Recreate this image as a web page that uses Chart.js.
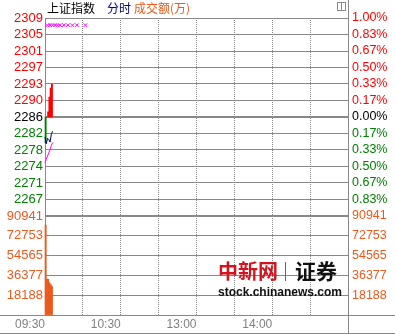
<!DOCTYPE html>
<html>
<head>
<meta charset="utf-8">
<script src="https://cdn.jsdelivr.net/npm/chart.js@4.4.1/dist/chart.umd.min.js"></script>
<style>
html, body { margin: 0; padding: 0; background: #fff; }
canvas { display: block; }
</style>
</head>
<body>
<canvas id="chart" width="395" height="334"></canvas>
<script>
// previous close of 上证指数, the 0.00% line
const prevClose = 2285.8;

// time axis, minutes after 09:30 (morning + afternoon session = 240 min)
const timeTicks = [0, 30, 60, 90, 120, 150, 180, 210, 240];
const timeLabelMinutes = [0, 60, 120, 180];
const timeLabels = ['09:30', '10:30', '13:00', '14:00'];

// left / right tick labels, top to bottom
const priceLabels = ['2309', '2305', '2301', '2297', '2293', '2290', '2286', '2282', '2278', '2274', '2271', '2267'];
const pctLabels = ['1.00%', '0.83%', '0.67%', '0.50%', '0.33%', '0.17%', '0.00%', '0.17%', '0.33%', '0.50%', '0.67%', '0.83%'];
const volTicks = [0, 18188, 36377, 54565, 72753, 90941];

// first minutes of trading
const lineMinutes = [0, 1, 2, 3, 4, 5, 6];
const indexLine = [2281.2, 2279.6, 2280.9, 2280.6, 2280.0, 2281.8, 2282.5];
const leadLine = [2275.3, 2276.0, 2276.8, 2277.5, 2278.3, 2279.2, 2279.9];

const barMinutes = [0, 1, 2, 3, 4, 5];
const buySell = [2279.9, null, 2287.0, 2290.4, 2292.5, 2293.4];
const volume = [82700, 33100, 32800, 29700, 28000, 26200];

const markerMinutes = [2, 4, 6, 7.9, 9.9, 11.9, 15, 18.2, 21.8, 25.3, 32];
const markerValues = [2307, 2307, 2307, 2307, 2307, 2307, 2307, 2307, 2307, 2307, 2307];

const RED = '#ff0000', GREEN = '#008000', ORANGE = '#ea5a1c', GRID = '#888888';
const FONT = 'Liberation Sans, Arial, sans-serif';

function priceTickValues() {
	const out = [];
	for (let k = -6; k <= 6; k++) out.push({ value: prevClose * (1 + k / 600) });
	return out;
}
function stepColor(ctx) {
	const k = ctx.index - 6;
	return k > 0 ? RED : (k === 0 ? '#000000' : GREEN);
}

const decor = {
	id: 'decor',
	beforeDraw(chart) {
		const c = chart.ctx;
		c.save();
		c.fillStyle = '#ffffff';
		c.fillRect(0, 0, chart.width, chart.height);
		c.restore();
	},
	afterDatasetsDraw(chart) {
		const c = chart.ctx;
		c.save();
		// watermark
		c.textBaseline = 'middle';
		c.textAlign = 'left';
		c.fillStyle = '#d2141e';
		c.font = 'bold 20px "Noto Sans CJK SC"';
		c.fillText('中新网', 218, 271);
		c.fillStyle = '#666666';
		c.fillRect(285, 262, 1, 19);
		c.fillStyle = '#111111';
		c.font = 'bold 21px "Noto Sans CJK SC"';
		c.fillText('证券', 295, 271);
		c.font = 'bold 12px ' + FONT;
		c.textBaseline = 'alphabetic';
		c.fillText('stock.chinanews.com', 218, 296);
		c.restore();
	},
	afterDraw(chart) {
		const c = chart.ctx;
		c.save();
		c.strokeStyle = GRID;
		c.lineWidth = 1;
		c.beginPath();
		c.moveTo(0, 315.5); c.lineTo(395, 315.5);
		c.moveTo(0, 333.5); c.lineTo(395, 333.5);
		c.moveTo(348.5, 0); c.lineTo(348.5, 334);
		c.stroke();
		// small layout icon
		c.strokeRect(337.5, 2.5, 8, 8);
		c.beginPath(); c.moveTo(341.5, 2.5); c.lineTo(341.5, 10.5); c.stroke();
		// titles
		c.textBaseline = 'middle';
		c.font = '12px "Noto Sans CJK SC"';
		c.fillStyle = '#000000';
		c.fillText('上证指数', 47, 8.5);
		c.fillStyle = '#000080';
		c.fillText('分时', 107, 8.5);
		c.fillStyle = ORANGE;
		c.fillText('成交额(万)', 134, 8.5);
		c.restore();
	}
};

function initialize() {
	const ctx = document.getElementById('chart');
	new Chart(ctx, {
		data: {
			datasets: [{
				type: 'line',
				data: lineMinutes.map((m, i) => ({ x: m, y: indexLine[i] })),
				borderColor: '#000080',
				borderWidth: 1,
				pointRadius: 0,
				clip: false,
				yAxisID: 'y'
			}, {
				type: 'line',
				data: lineMinutes.map((m, i) => ({ x: m, y: leadLine[i] })),
				borderColor: '#ff00ff',
				borderWidth: 1,
				pointRadius: 0,
				clip: false,
				yAxisID: 'y'
			}, {
				type: 'line',
				data: markerMinutes.map((m, i) => ({ x: m, y: markerValues[i] })),
				showLine: false,
				pointStyle: 'crossRot',
				pointRadius: 2.5,
				pointBorderWidth: 1,
				borderColor: '#ff00ff',
				yAxisID: 'y'
			}, {
				type: 'bar',
				// bars sit in the middle of their minute
				data: barMinutes.map((m, i) => ({ x: m + 0.5, y: buySell[i] == null ? null : [prevClose, buySell[i]] })),
				backgroundColor: c => {
					const v = buySell[c.dataIndex];
					return v != null && v < prevClose ? GREEN : RED;
				},
				barPercentage: 1,
				categoryPercentage: 1,
				grouped: false,
				clip: false,
				yAxisID: 'y'
			}, {
				type: 'bar',
				data: barMinutes.map((m, i) => ({ x: m + 0.5, y: volume[i] })),
				backgroundColor: ORANGE,
				barPercentage: 1,
				categoryPercentage: 1,
				grouped: false,
				clip: false,
				yAxisID: 'yv'
			}]
		},
		options: {
			responsive: false,
			animation: false,
			devicePixelRatio: 1,
			layout: { padding: { top: 18, left: 0, right: 0, bottom: 0 } },
			plugins: { legend: { display: false }, tooltip: { enabled: false } },
			scales: {
				x: {
					type: 'linear',
					min: 0,
					max: 240,
					offset: false,
					afterBuildTicks: s => { s.ticks = timeTicks.map(v => ({ value: v })); },
					afterFit: s => { s.height = 19; },
					ticks: {
						autoSkip: false,
						maxRotation: 0,
						align: 'end',
						padding: 2,
						color: '#808080',
						font: { family: FONT, size: 12 },
						callback: v => {
							const i = timeLabelMinutes.indexOf(v);
							return i < 0 ? '' : timeLabels[i];
						}
					},
					grid: {
						color: GRID,
						offset: false,
						drawTicks: false,
						lineWidth: [0, 1, 1, 1, 1, 1, 1, 1, 0]
					},
					border: { display: true, color: GRID, dash: [1, 1] }
				},
				y: {
					type: 'linear',
					position: 'left',
					stack: 'left',
					stackWeight: 2,
					weight: 1,
					min: prevClose * 0.99,
					max: prevClose * 1.01,
					afterBuildTicks: s => { s.ticks = priceTickValues(); },
					afterFit: s => { s.width = 45; },
					ticks: {
						autoSkip: false,
						padding: 2,
						color: stepColor,
						font: { family: FONT, size: 13 },
						callback: (v, i) => priceLabels[12 - i] || ''
					},
					grid: {
						color: GRID,
						drawTicks: false,
						lineWidth: [2, 1, 1, 1, 1, 1, 2, 1, 1, 1, 1, 1, 1]
					},
					border: { display: true, color: GRID, z: -1 }
				},
				yv: {
					type: 'linear',
					position: 'left',
					stack: 'left',
					stackWeight: 1,
					weight: 0,
					min: 0,
					max: volTicks[volTicks.length - 1],
					afterBuildTicks: s => { s.ticks = volTicks.map(v => ({ value: v })); },
					afterFit: s => { s.width = 45; },
					ticks: {
						autoSkip: false,
						padding: 2,
						color: ORANGE,
						font: { family: FONT, size: 13 },
						callback: v => v === 0 ? '' : String(v)
					},
					grid: {
						color: GRID,
						drawTicks: false,
						lineWidth: [1, 1, 1, 1, 1, 2]
					},
					border: { display: true, color: GRID, z: -1 }
				},
				yp: {
					type: 'linear',
					position: 'right',
					stack: 'right',
					stackWeight: 2,
					min: prevClose * 0.99,
					max: prevClose * 1.01,
					afterBuildTicks: s => { s.ticks = priceTickValues(); },
					afterFit: s => { s.width = 47; },
					ticks: {
						autoSkip: false,
						padding: 4,
						color: stepColor,
						font: { family: FONT, size: 12.5 },
						callback: (v, i) => pctLabels[12 - i] || ''
					},
					grid: { drawOnChartArea: false, drawTicks: false },
					border: { display: true, color: GRID }
				},
				yvr: {
					type: 'linear',
					position: 'right',
					stack: 'right',
					stackWeight: 1,
					min: 0,
					max: volTicks[volTicks.length - 1],
					afterBuildTicks: s => { s.ticks = volTicks.map(v => ({ value: v })); },
					afterFit: s => { s.width = 47; },
					ticks: {
						autoSkip: false,
						padding: 4,
						color: ORANGE,
						font: { family: FONT, size: 12.5 },
						callback: v => v === 0 ? '' : String(v)
					},
					grid: { drawOnChartArea: false, drawTicks: false },
					border: { display: true, color: GRID }
				}
			}
		},
		plugins: [decor]
	});
}
initialize();
</script>
</body>
</html>
